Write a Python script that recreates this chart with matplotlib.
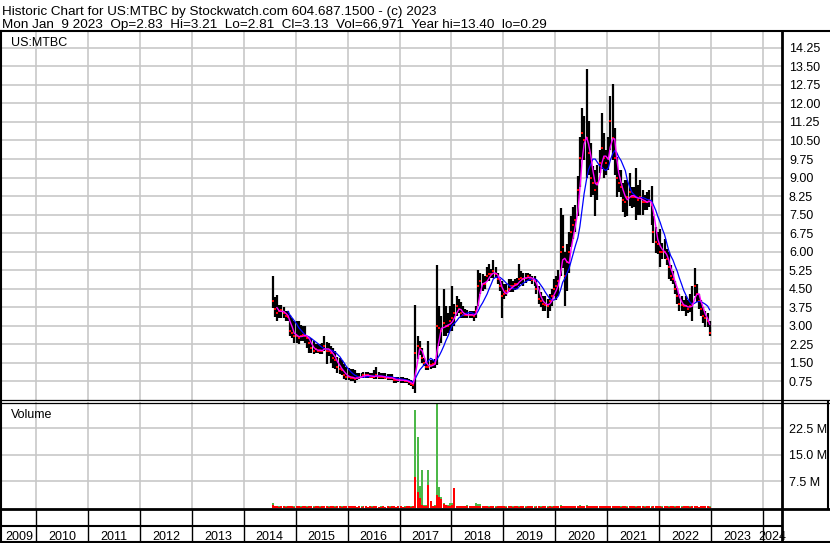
import numpy as np
import pandas as pd
import matplotlib
matplotlib.use('Agg')
import matplotlib.pyplot as plt
import matplotlib.dates as mdates
import matplotlib.transforms as mtrans

plt.rcParams['font.family'] = ['Liberation Sans', 'DejaVu Sans']

# half-monthly bars (high / low / close)
hi_2014 = [5.03, 4.15, 4.25, 3.85, 3.85, 3.75, 3.6, 3.6, 3.45, 3.3, 3.2]
lo_2014 = [3.74, 3.35, 3.2, 3.3, 3.3, 3.3, 3.2, 3.2, 2.6, 2.5, 2.3]
cl_2014 = [4.0, 3.7, 3.5, 3.6, 3.65, 3.5, 3.4, 3.35, 2.8, 2.7, 2.6]

hi_2015 = [3.2, 3.2, 3.05, 3.0, 3.0, 2.6, 2.5, 2.5, 2.4, 2.25, 2.25, 2.25,
           2.3, 2.6, 2.35, 2.3, 2.2, 2.1, 2.0, 1.75, 1.7, 1.6, 1.45, 1.35]
lo_2015 = [2.3, 2.25, 2.4, 2.4, 2.3, 2.1, 1.9, 1.9, 1.85, 1.9, 1.9, 1.85,
           1.85, 2.0, 1.45, 1.8, 1.5, 1.3, 1.25, 1.1, 1.05, 1.0, 0.85, 0.8]
cl_2015 = [2.6, 2.5, 2.6, 2.65, 2.6, 2.5, 2.3, 2.1, 2.0, 2.05, 2.0, 2.0,
           2.0, 2.2, 2.0, 2.0, 1.9, 1.7, 1.6, 1.35, 1.25, 1.2, 1.0, 0.95]

hi_2016 = [1.3, 1.25, 1.25, 1.2, 1.1, 1.1, 1.1, 1.15, 1.15, 1.15, 1.1, 1.1,
           1.2, 1.35, 1.15, 1.1, 1.1, 1.1, 1.05, 1.05, 1.05, 0.95, 0.95, 0.95]
lo_2016 = [0.8, 0.75, 0.75, 0.7, 0.8, 0.85, 0.9, 0.9, 0.9, 0.9, 0.9, 0.88,
           0.85, 0.85, 0.85, 0.85, 0.85, 0.85, 0.8, 0.8, 0.8, 0.7, 0.7, 0.72]
cl_2016 = [0.95, 0.9, 0.9, 0.85, 0.9, 0.95, 0.95, 1.0, 1.0, 1.0, 0.95, 0.95,
           0.95, 1.0, 0.95, 0.95, 0.95, 0.9, 0.9, 0.9, 0.9, 0.8, 0.8, 0.8]

hi_2017 = [0.95, 0.95, 0.9, 0.9, 0.85, 0.8, 0.75, 3.86, 2.6, 2.4, 2.1, 1.7,
           1.5, 2.4, 1.6, 1.6, 1.65, 5.48, 3.8, 3.4, 4.48, 3.8, 3.5, 3.8]
lo_2017 = [0.7, 0.7, 0.7, 0.68, 0.6, 0.55, 0.45, 0.29, 1.64, 1.84, 1.5, 1.37,
           1.2, 1.2, 1.25, 1.3, 1.3, 1.4, 2.2, 2.3, 2.6, 2.6, 2.7, 2.8]
cl_2017 = [0.8, 0.8, 0.78, 0.75, 0.72, 0.65, 0.6, 1.9, 2.2, 2.1, 1.7, 1.5,
           1.35, 1.35, 1.4, 1.45, 1.5, 3.0, 2.9, 2.8, 3.1, 3.0, 3.0, 3.2]

hi_2018 = [4.6, 3.9, 4.2, 4.1, 3.95, 3.8, 3.7, 3.65, 3.6, 3.6, 3.6, 3.8,
           5.27, 5.15, 5.1, 5.0, 5.4, 5.5, 5.3, 5.65, 5.4, 5.15, 4.9, 4.8]
lo_2018 = [2.8, 3.0, 3.4, 3.5, 3.3, 3.3, 3.3, 3.3, 3.3, 3.3, 3.2, 3.3,
           3.8, 4.3, 4.4, 4.5, 4.8, 4.8, 4.95, 4.95, 4.95, 4.7, 4.4, 3.3]
cl_2018 = [3.3, 3.5, 3.8, 3.7, 3.5, 3.45, 3.45, 3.45, 3.45, 3.45, 3.4, 3.6,
           4.6, 4.8, 4.7, 4.7, 5.0, 5.1, 5.1, 5.2, 5.1, 4.9, 4.6, 4.2]

hi_2019 = [4.7, 4.7, 4.9, 4.9, 4.8, 4.9, 4.95, 5.5, 5.2, 5.15, 5.15, 5.15,
           5.1, 5.0, 5.0, 4.9, 4.6, 4.35, 4.2, 4.2, 4.1, 4.3, 4.5, 4.9]
lo_2019 = [4.1, 4.2, 4.35, 4.35, 4.35, 4.45, 4.5, 4.6, 4.7, 4.6, 4.75, 4.8,
           4.8, 4.7, 4.6, 4.3, 3.9, 3.75, 3.6, 3.6, 3.3, 3.6, 3.8, 4.2]
cl_2019 = [4.3, 4.4, 4.5, 4.6, 4.6, 4.7, 4.7, 4.9, 4.95, 4.9, 4.95, 5.0,
           4.95, 4.85, 4.8, 4.5, 4.1, 4.0, 3.9, 3.85, 3.8, 4.0, 4.2, 4.5]

hi_2020 = [5.0, 5.27, 7.77, 7.5, 6.0, 6.3, 6.8, 7.43, 7.8, 7.9, 9.05, 10.66,
           11.82, 11.5, 13.39, 11.3, 10.4, 9.45, 9.3, 9.5, 10.1, 11.6, 10.8, 10.1]
lo_2020 = [4.06, 4.2, 5.0, 5.35, 3.79, 4.4, 5.15, 6.2, 6.5, 6.8, 7.43, 8.6,
           9.7, 9.7, 9.0, 9.1, 8.2, 8.3, 7.43, 8.1, 9.2, 9.35, 9.0, 9.1]
cl_2020 = [4.6, 4.8, 6.0, 6.2, 5.0, 5.6, 6.0, 6.8, 7.1, 7.3, 8.5, 9.8,
           10.8, 10.5, 10.6, 10.0, 9.0, 8.8, 8.5, 8.8, 9.6, 10.2, 9.8, 9.6]

hi_2021 = [10.66, 12.3, 12.8, 11.0, 9.85, 9.3, 9.3, 8.8, 8.9, 8.9, 9.2, 8.6,
           8.6, 9.4, 8.7, 8.9, 8.5, 8.3, 8.4, 8.5, 8.65, 7.43, 7.0, 6.8]
lo_2021 = [9.3, 10.1, 9.7, 9.1, 8.2, 8.4, 8.2, 7.6, 7.4, 7.43, 7.83, 7.75,
           7.8, 7.3, 7.5, 7.5, 7.5, 7.7, 7.7, 7.8, 7.1, 6.35, 5.95, 5.9]
cl_2021 = [9.8, 11.3, 10.6, 9.8, 9.0, 8.8, 8.6, 8.1, 8.0, 8.2, 8.4, 8.2,
           8.2, 8.2, 8.1, 8.2, 8.0, 8.0, 8.0, 8.1, 7.9, 6.8, 6.4, 6.3]

hi_2022 = [6.9, 6.35, 6.5, 6.1, 6.0, 5.45, 5.2, 4.8, 4.55, 4.3, 4.2, 4.05,
           4.2, 4.05, 4.3, 4.6, 5.35, 4.7, 4.3, 4.05, 3.75, 3.6, 3.5, 3.2]
lo_2022 = [5.4, 5.7, 5.7, 5.45, 4.9, 4.8, 4.7, 4.3, 3.9, 3.6, 3.6, 3.6,
           3.4, 3.5, 3.55, 3.2, 4.2, 3.95, 3.7, 3.4, 3.1, 2.95, 2.95, 2.6]
cl_2022 = [6.0, 6.0, 6.0, 5.7, 5.4, 5.0, 4.9, 4.5, 4.2, 3.9, 3.85, 3.8,
           3.8, 3.7, 3.8, 3.9, 4.6, 4.3, 4.0, 3.7, 3.4, 3.3, 3.2, 2.7]

# volume in millions, up days (green) and down days (red)
vup_2014 = [1.4, 0.3, 0.2, 0.3, 0.2, 0.2, 0.3, 0.2, 0.3, 0.2, 0.3]
vdn_2014 = [0.6, 0.4, 0.3, 0.2, 0.3, 0.3, 0.2, 0.3, 0.4, 0.3, 0.2]
vup_2015 = [0.3, 0.2, 0.3, 0.2, 0.2, 0.3, 0.2, 0.2, 0.3, 0.2, 0.2, 0.3,
            0.2, 0.2, 0.2, 0.3, 0.2, 0.2, 0.3, 0.2, 0.2, 0.3, 0.2, 0.2]
vdn_2015 = [0.3, 0.3, 0.2, 0.3, 0.3, 0.2, 0.3, 0.3, 0.2, 0.3, 0.3, 0.2,
            0.3, 0.3, 0.3, 0.2, 0.3, 0.3, 0.2, 0.3, 0.3, 0.2, 0.3, 0.4]
vup_2016 = [0.2, 0.2, 0.3, 0.2, 0.2, 0.2, 0.3, 0.2, 0.2, 0.2, 0.2, 0.3,
            0.5, 0.2, 0.2, 0.3, 0.2, 0.2, 0.2, 0.3, 0.2, 0.2, 0.2, 0.2]
vdn_2016 = [0.3, 0.4, 0.3, 0.3, 0.2, 0.3, 0.2, 0.3, 0.3, 0.2, 0.3, 0.2,
            0.3, 0.3, 0.2, 0.2, 0.3, 0.2, 0.3, 0.2, 0.3, 0.3, 0.2, 0.3]
vup_2017 = [0.2, 0.2, 0.3, 0.2, 0.2, 0.3, 0.4, 27.5, 19.9, 6.2, 10.5, 0.8,
            0.6, 10.5, 0.8, 0.5, 0.6, 29.3, 5.9, 3.0, 1.4, 0.8, 0.6, 1.2]
vdn_2017 = [0.3, 0.2, 0.2, 0.3, 0.3, 0.2, 0.5, 8.6, 4.3, 2.6, 0.6, 0.5,
            0.4, 6.4, 1.9, 0.4, 0.5, 3.5, 3.1, 2.4, 1.0, 0.6, 0.5, 0.5]
vup_2018 = [1.2, 0.6, 0.4, 0.5, 0.3, 0.4, 0.3, 0.7, 0.3, 0.4, 0.3, 1.2,
            1.0, 1.0, 0.5, 0.4, 0.3, 0.3, 0.4, 0.3, 0.3, 0.2, 0.3, 0.3]
vdn_2018 = [0.6, 5.4, 0.5, 0.4, 0.4, 0.3, 0.4, 0.3, 0.3, 0.3, 0.4, 0.3,
            0.5, 0.4, 0.3, 0.3, 0.3, 0.2, 0.3, 0.3, 0.2, 0.3, 0.3, 0.4]
vup_2019 = [0.2, 0.3, 0.2, 0.2, 0.3, 0.2, 0.2, 0.3, 0.2, 0.2, 0.3, 0.2,
            0.2, 0.2, 0.3, 0.2, 0.2, 0.3, 0.2, 0.2, 0.3, 0.2, 0.3, 0.3]
vdn_2019 = [0.3, 0.2, 0.3, 0.3, 0.2, 0.3, 0.3, 0.2, 0.3, 0.3, 0.2, 0.3,
            0.3, 0.3, 0.2, 0.3, 0.3, 0.2, 0.3, 0.3, 0.2, 0.3, 0.2, 0.3]
vup_2020 = [0.4, 0.5, 0.6, 0.5, 0.4, 0.3, 0.5, 0.4, 0.3, 0.4, 0.5, 0.6,
            0.4, 0.5, 0.6, 0.4, 0.3, 0.4, 0.3, 0.4, 0.3, 0.5, 0.3, 0.4]
vdn_2020 = [0.3, 0.4, 0.4, 0.3, 0.5, 0.3, 0.3, 0.3, 0.4, 0.3, 0.3, 0.4,
            0.5, 0.4, 0.5, 0.3, 0.4, 0.3, 0.3, 0.3, 0.4, 0.3, 0.4, 0.3]
vup_2021 = [0.3, 0.4, 0.3, 0.3, 0.2, 0.3, 0.3, 0.2, 0.3, 0.3, 0.2, 0.3,
            0.2, 0.3, 0.3, 0.2, 0.2, 0.3, 0.2, 0.2, 0.3, 0.2, 0.3, 0.2]
vdn_2021 = [0.4, 0.4, 0.5, 0.4, 0.3, 0.3, 0.2, 0.3, 0.3, 0.2, 0.3, 0.3,
            0.3, 0.2, 0.3, 0.3, 0.3, 0.2, 0.3, 0.3, 0.2, 0.3, 0.3, 0.3]
vup_2022 = [0.2, 0.3, 0.2, 0.2, 0.3, 0.2, 0.2, 0.3, 0.2, 0.2, 0.3, 0.2,
            0.2, 0.2, 0.3, 0.2, 0.4, 0.2, 0.2, 0.3, 0.2, 0.2, 0.2, 0.3]
vdn_2022 = [0.3, 0.2, 0.3, 0.3, 0.2, 0.3, 0.3, 0.2, 0.3, 0.3, 0.2, 0.3,
            0.3, 0.3, 0.2, 0.3, 0.3, 0.3, 0.2, 0.3, 0.3, 0.3, 0.3, 0.2]

price_ticks = [0.75, 1.50, 2.25, 3.00, 3.75, 4.50, 5.25, 6.00, 6.75, 7.50,
               8.25, 9.00, 9.75, 10.50, 11.25, 12.00, 12.75, 13.50, 14.25]
vol_ticks = [7.5, 15.0, 22.5]
vol_labels = ['7.5 M', '15.0 M', '22.5 M']
years = list(range(2009, 2025))

title1 = 'Historic Chart for US:MTBC by Stockwatch.com 604.687.1500 - (c) 2023'
title2 = ('Mon Jan  9 2023  Op=2.83  Hi=3.21  Lo=2.81  Cl=3.13  '
          'Vol=66,971  Year hi=13.40  lo=0.29')

high = hi_2014 + hi_2015 + hi_2016 + hi_2017 + hi_2018 + hi_2019 + hi_2020 + hi_2021 + hi_2022
low = lo_2014 + lo_2015 + lo_2016 + lo_2017 + lo_2018 + lo_2019 + lo_2020 + lo_2021 + lo_2022
close = cl_2014 + cl_2015 + cl_2016 + cl_2017 + cl_2018 + cl_2019 + cl_2020 + cl_2021 + cl_2022
vol_up = vup_2014 + vup_2015 + vup_2016 + vup_2017 + vup_2018 + vup_2019 + vup_2020 + vup_2021 + vup_2022
vol_dn = vdn_2014 + vdn_2015 + vdn_2016 + vdn_2017 + vdn_2018 + vdn_2019 + vdn_2020 + vdn_2021 + vdn_2022

dates = pd.date_range('2014-07-15', '2022-12-15', freq='SMS') + pd.Timedelta(days=7)
df = pd.DataFrame({'high': high, 'low': low, 'close': close,
                   'vup': vol_up, 'vdn': vol_dn}, index=dates)
ma_short = df['close'].rolling(3).mean()
ma_long = df['close'].rolling(8).mean()

W, H = 830, 543
GRID = '#c8c8c8'
GREEN = '#4cb848'


def box(x0, y0, x1, y1):
    return [x0 / W, 1 - y1 / H, (x1 - x0) / W, (y1 - y0) / H]


fig = plt.figure(figsize=(W / 100, H / 100), dpi=100)
fig.patch.set_facecolor('white')

ax = fig.add_axes(box(2, 31, 782, 400))
axv = fig.add_axes(box(2, 402, 782, 509), sharex=ax)
axy = fig.add_axes(box(2, 509, 782, 543), sharex=ax)

x0, x1 = pd.Timestamp('2009-05-06'), pd.Timestamp('2024-05-14')
year_starts = [pd.Timestamp(f'{y}-01-01') for y in years[1:]]

for a in (ax, axv, axy):
    for s in a.spines.values():
        s.set_visible(False)
    a.set_xlim(x0, x1)
    a.set_xticks(year_starts)
    a.tick_params(axis='x', length=0, labelbottom=False)

# price panel
ax.set_ylim(0, 14.93)
ax.set_yticks(price_ticks)
ax.set_yticklabels([f'{v:.2f}' for v in price_ticks])
ax.yaxis.tick_right()
ax.tick_params(axis='y', length=0, pad=5, labelsize=9)
ax.grid(True, color=GRID, lw=1.2)
ax.set_axisbelow(True)

ax.vlines(df.index, df['low'], df['high'], color='black', lw=1.6, zorder=2)
ax.plot(df.index, df['close'], 's', color='red', ms=1.6, mew=0, zorder=3)
ax.plot(df.index, ma_long, color='#0000ff', lw=0.9, zorder=4)
ax.plot(df.index, ma_short, color='#ff00ff', lw=1.0, zorder=5)
ax.text(9 / 780, 1 - 15 / 369, 'US:MTBC', transform=ax.transAxes,
        fontsize=9, va='baseline', ha='left')

# volume panel
axv.set_ylim(-0.42, 29.86)
axv.set_yticks(vol_ticks)
axv.set_yticklabels(vol_labels)
axv.yaxis.tick_right()
axv.tick_params(axis='y', length=0, pad=5, labelsize=9)
axv.grid(True, color=GRID, lw=1.2)
axv.set_axisbelow(True)
axv.bar(df.index, df['vup'], width=14, color=GREEN, lw=0, zorder=2)
axv.bar(df.index, df['vdn'], width=14, color='red', lw=0, zorder=3)
axv.text(9 / 780, 1 - 16 / 107, 'Volume', transform=axv.transAxes,
         fontsize=9, va='baseline', ha='left')

# year strip
axy.set_ylim(0, 1)
axy.set_yticks([])
for d in year_starts:
    axy.axvline(d, color='black', lw=1.0)
trans = mtrans.blended_transform_factory(axy.transData, axy.transAxes)
for y in years:
    a = max(pd.Timestamp(f'{y}-01-01'), x0)
    b = min(pd.Timestamp(f'{y + 1}-01-01'), x1)
    mid = a + (b - a) / 2
    axy.text(mid, 3 / 34, str(y), transform=trans, ha='center',
             va='baseline', fontsize=9)

# frame lines
ov = fig.add_axes([0, 0, 1, 1], zorder=10)
ov.set_xlim(0, W)
ov.set_ylim(H, 0)
ov.axis('off')
ov.patch.set_alpha(0)
ov.plot([0, W], [31, 31], color='black', lw=1.5)
ov.plot([1, 1], [31, H], color='black', lw=1.5)
ov.plot([782, 782], [31, H], color='black', lw=2.0)
ov.plot([0, W], [400, 400], color='black', lw=0.9)
ov.plot([0, W], [402.5, 402.5], color='black', lw=0.9)
ov.plot([0, W], [509, 509], color='black', lw=2.0)
ov.plot([0, 782], [526, 526], color='black', lw=1.5)
ov.plot([0, W], [542, 542], color='black', lw=1.5)
ov.plot([828, 828], [402, 509], color='black', lw=1.5)

fig.text(2 / W, 1 - 15.5 / H, title1, fontsize=9.7, va='baseline', ha='left')
fig.text(2 / W, 1 - 28 / H, title2, fontsize=9.7, va='baseline', ha='left')

fig.savefig('out.png', dpi=100, facecolor='white')
